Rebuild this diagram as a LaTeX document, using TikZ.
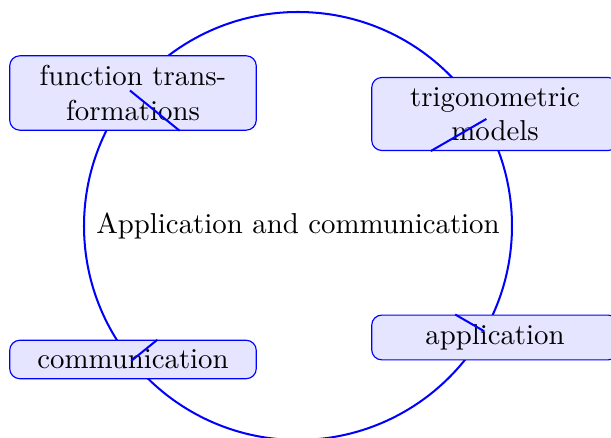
\documentclass[tikz,border=0pt]{standalone}
\usetikzlibrary{calc}
\begin{document}
\begin{tikzpicture}[x=0.3472pt,y=-0.3472pt,
  topic/.style={draw=blue, fill=blue!10, rounded corners=3.5pt, line width=0.4pt,
    minimum width=85.6pt, inner sep=0.3333em, align=center},
  twoline/.style={topic, text width=78.9pt},
  hub/.style={circle, draw=blue, line width=0.7pt, minimum size=148.6pt, inner sep=0pt},
  link/.style={draw=blue, line width=0.7pt}]
\useasboundingbox (0,0) rectangle (611,438);
\node[hub] (c) at (298,226) {};
\node (ct) at (298,226) {Application and communication};
\node[twoline] (b1) at (133,93) {function transformations};
\node[twoline] (b2) at (495,114) {trigonometric models};
\node[topic] (b3) at (133,359.5) {communication};
\node[topic] (b4) at (495,337.5) {application};
\draw[link] ($(b1.-39)!22.2pt!(b1.center)$) -- (b1.-39);
\draw[link] ($(b2.-150.5)!22.3pt!(b2.center)$) -- (b2.-150.5);
\draw[link] ($(b3.39)!11.7pt!(b3.center)$) -- (b3.39);
\draw[link] ($(b4.150.6)!11.6pt!(b4.center)$) -- (b4.150.6);
\end{tikzpicture}
\end{document}
